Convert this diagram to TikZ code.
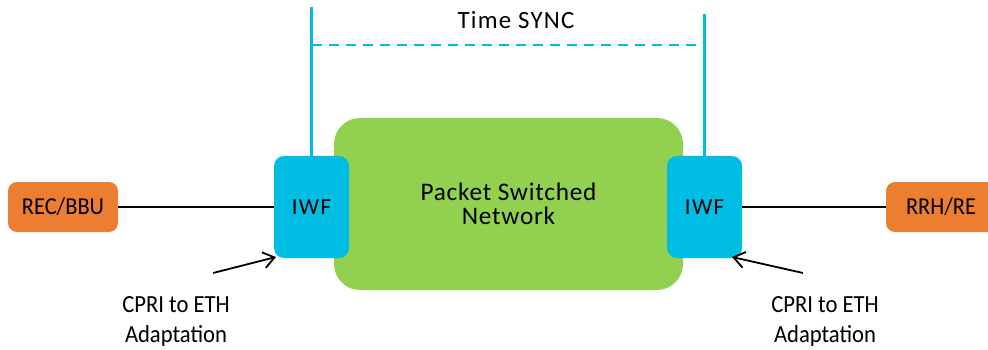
\documentclass[tikz,border=0pt]{standalone}
\usepackage{fontspec}
\setmainfont{Carlito}
% slightly condensed cut for the end-point and caption labels
\newfontfamily\narrowfont[FakeStretch=0.92]{Carlito}
\usetikzlibrary{arrows.meta}
\definecolor{netgreen}{HTML}{92D050}
\definecolor{iwfblue}{HTML}{00BDE3}
\definecolor{endorange}{HTML}{ED7D31}
\tikzset{
  endbox/.style={fill=endorange, rounded corners=9pt, minimum width=110pt, minimum height=50pt, inner sep=0pt,
    font=\narrowfont\fontsize{24.3}{28}\selectfont},
  iwfbox/.style={fill=iwfblue, rounded corners=10pt, minimum width=75pt, minimum height=102pt, inner sep=0pt,
    font=\fontsize{22.8}{26}\selectfont\addfontfeatures{LetterSpace=6}},
  netbox/.style={fill=netgreen, rounded corners=26pt, minimum width=349pt, minimum height=172pt, inner sep=0pt, align=center,
    font=\fontsize{25.3}{24.5}\selectfont\addfontfeatures{LetterSpace=3}},
  link/.style={draw=black, line width=1.8pt},
  syncline/.style={draw=iwfblue, line width=2.6pt},
  syncdash/.style={draw=iwfblue, line width=2.8pt, dash pattern=on 10pt off 7pt},
  pointer/.style={draw=black, line width=1.8pt, -{Straight Barb[length=11pt,width=16pt,line width=1.8pt]}},
  caption/.style={align=center, inner sep=0pt, font=\narrowfont\fontsize{24.6}{30}\selectfont},
  synclabel/.style={inner sep=0pt, font=\fontsize{24.8}{28}\selectfont\addfontfeatures{LetterSpace=5}}
}
\begin{document}
\begin{tikzpicture}[x=1pt, y=-1pt]
  \useasboundingbox (0,0) rectangle (988,350);
  % network cloud and the two interworking functions at its edges
  \node[netbox] (psn) at (508.5,204) {Packet Switched\\Network};
  \node[iwfbox] (iwfl) at (311.5,207) {IWF};
  \node[iwfbox] (iwfr) at (704.5,207) {IWF};
  % radio end points
  \node[endbox] (bbu) at (63,207) {REC/BBU};
  \node[endbox] (rrh) at (941,207) {RRH/RE};
  \draw[link] (bbu) -- (iwfl);
  \draw[link] (iwfr) -- (rrh);
  % time synchronisation between the IWFs
  \coordinate (tl) at (311.5,7);
  \coordinate (tr) at (704.5,14);
  \draw[syncline] (iwfl.north) -- (tl);
  \draw[syncline] (iwfr.north) -- (tr);
  \coordinate (dl) at (311.5,45);
  \coordinate (dr) at (704.5,45);
  \draw[syncdash] (dl) -- (dr);
  \node[synclabel] (sync) at (516,20) {Time SYNC};
  % adaptation labels
  \node[caption] (capl) at (176,321) {CPRI to ETH\\Adaptation};
  \node[caption] (capr) at (825,321) {CPRI to ETH\\Adaptation};
  \coordinate (al) at (213,273);
  \coordinate (ar) at (803,273);
  \coordinate (hl) at (276,257);
  \coordinate (hr) at (732,257);
  \draw[pointer] (al) -- (hl);
  \draw[pointer] (ar) -- (hr);
\end{tikzpicture}
\end{document}
